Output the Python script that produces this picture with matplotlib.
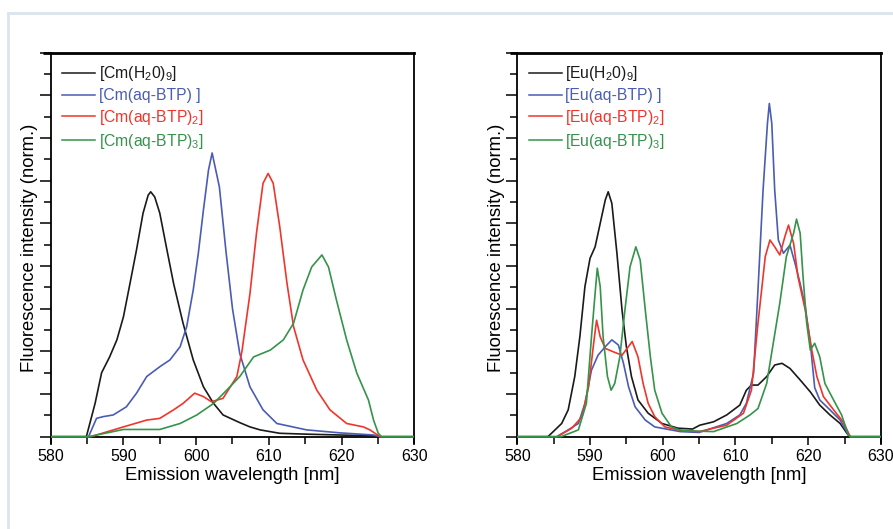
import matplotlib
matplotlib.use("Agg")
import matplotlib.pyplot as plt
from matplotlib.lines import Line2D
from matplotlib.ticker import MultipleLocator, NullFormatter

plt.rcParams['font.family'] = ['Liberation Sans', 'DejaVu Sans']
plt.rcParams['mathtext.fontset'] = 'custom'
plt.rcParams['mathtext.rm'] = 'Liberation Sans'
plt.rcParams['mathtext.it'] = 'Liberation Sans'

# --- Cm spectra ---
cm_h2o_wl = [580, 584.9, 586.1, 587.0, 588.1, 589.1, 590.0, 590.9, 591.8, 592.7, 593.4, 593.75, 594.3,
             595.0, 595.9, 596.9, 598.2, 599.6, 601.0, 602.4, 603.7, 606.0, 607.4, 608.8, 611.5, 615.1,
             619.8, 624.4, 625.0, 630]
cm_h2o = [0, 0, 0.78, 1.5, 1.87, 2.27, 2.81, 3.59, 4.38, 5.24, 5.66, 5.74, 5.62,
          5.24, 4.45, 3.59, 2.66, 1.80, 1.17, 0.78, 0.51, 0.33, 0.23, 0.16, 0.08, 0.06,
          0.04, 0.02, 0, 0]

cm_btp1_wl = [580, 585.2, 586.3, 587.2, 588.6, 590.4, 591.8, 593.2, 595.0, 596.4, 597.8, 598.7, 599.6,
              600.3, 601.0, 601.7, 602.2, 603.2, 604.1, 605.0, 606.0, 607.4, 609.2, 611.1, 615.2, 619.8,
              624.4, 625.3, 630]
cm_btp1 = [0, 0, 0.43, 0.47, 0.51, 0.70, 1.02, 1.41, 1.64, 1.80, 2.11, 2.58, 3.44,
           4.30, 5.31, 6.25, 6.65, 5.85, 4.35, 3.0, 1.95, 1.17, 0.63, 0.31, 0.16, 0.09,
           0.04, 0, 0]

cm_btp2_wl = [580, 585.5, 590.0, 593.2, 595.0, 596.9, 598.2, 599.8, 601.0, 602.1, 603.7, 605.6, 606.3,
              607.4, 608.3, 609.2, 609.9, 610.6, 611.5, 612.5, 613.4, 614.7, 616.6, 618.4, 620.7, 623.0,
              623.9, 625.3, 630]
cm_btp2 = [0, 0, 0.23, 0.39, 0.43, 0.63, 0.78, 1.02, 0.94, 0.82, 0.90, 1.41, 2.0,
           3.35, 4.77, 5.94, 6.17, 5.94, 4.92, 3.59, 2.58, 1.80, 1.09, 0.63, 0.31, 0.23,
           0.16, 0, 0]

cm_btp3_wl = [580, 585.2, 590.0, 595.0, 597.8, 600.1, 602.4, 604.2, 606.0, 607.9, 610.2, 612.0, 613.4,
              614.7, 615.9, 617.3, 618.2, 619.3, 620.7, 622.1, 623.7, 624.4, 625.05, 625.5, 630]
cm_btp3 = [0, 0, 0.17, 0.17, 0.31, 0.51, 0.78, 1.09, 1.41, 1.87, 2.03, 2.27, 2.66,
           3.44, 3.98, 4.26, 3.98, 3.20, 2.27, 1.49, 0.86, 0.39, 0.08, 0, 0]

# --- Eu spectra ---
eu_h2o_wl = [580, 584.2, 584.7, 586.1, 587.0, 587.9, 588.6, 589.3, 590.0, 590.7, 591.4, 592.1, 592.5,
             593.0, 593.7, 594.4, 595.0, 595.7, 596.6, 598.0, 599.9, 602.1, 604.1, 605.1, 607.0, 608.8,
             610.6, 611.5, 612.2, 613.1, 614.3, 615.4, 616.4, 617.5, 618.9, 620.3, 621.6, 623.0, 624.4,
             625.5, 625.8, 630]
eu_h2o = [0, 0, 0.08, 0.31, 0.63, 1.41, 2.34, 3.52, 4.18, 4.45, 5.00, 5.55, 5.74,
          5.47, 4.30, 2.97, 2.11, 1.41, 0.86, 0.55, 0.31, 0.20, 0.18, 0.27, 0.35, 0.51,
          0.74, 1.09, 1.21, 1.21, 1.41, 1.68, 1.72, 1.60, 1.33, 1.05, 0.74, 0.51, 0.31,
          0.04, 0, 0]

eu_btp1_wl = [580, 585.4, 587.0, 588.4, 589.3, 590.2, 591.1, 592.1, 593.0, 593.9, 594.6, 595.3, 596.2,
              597.6, 598.9, 600.8, 602.4, 605.0, 608.8, 610.6, 611.5, 612.5, 613.1, 613.8, 614.4, 614.66,
              615.0, 615.4, 615.9, 616.6, 617.5, 618.2, 618.9, 619.6, 620.3, 620.9, 621.6, 623.0, 624.4,
              625.5, 625.8, 630]
eu_btp1 = [0, 0, 0.16, 0.31, 0.78, 1.56, 1.91, 2.11, 2.27, 2.15, 1.72, 1.17, 0.70,
           0.39, 0.23, 0.17, 0.12, 0.10, 0.31, 0.51, 0.78, 1.49, 3.44, 5.78, 7.34, 7.81,
           7.34, 5.78, 4.61, 4.30, 4.49, 4.06, 3.59, 3.05, 2.19, 1.15, 0.86, 0.63, 0.39,
           0.06, 0, 0]

eu_btp2_wl = [580, 585.5, 587.5, 588.9, 589.8, 590.5, 590.9, 591.4, 592.1, 593.2, 594.4, 595.8, 596.6,
              597.3, 598.0, 598.9, 600.3, 602.1, 605.0, 608.8, 611.1, 612.2, 613.1, 614.1, 614.75, 615.4,
              616.1, 616.8, 617.3, 618.0, 618.6, 619.6, 620.5, 621.2, 622.1, 623.5, 624.8, 625.8, 630]
eu_btp2 = [0, 0, 0.20, 0.47, 1.17, 2.19, 2.73, 2.34, 2.07, 1.99, 1.91, 2.23, 1.87,
           1.25, 0.78, 0.47, 0.23, 0.16, 0.12, 0.27, 0.55, 1.09, 2.66, 4.22, 4.61, 4.45,
           4.26, 4.69, 4.96, 4.53, 3.75, 2.97, 2.03, 1.41, 0.94, 0.63, 0.35, 0, 0]

eu_btp3_wl = [580, 586.0, 588.4, 589.5, 590.2, 590.7, 591.0, 591.4, 591.8, 592.4, 592.9, 593.4, 594.1,
              594.8, 595.5, 596.3, 596.9, 597.6, 598.3, 598.9, 599.9, 601.2, 602.6, 607.0, 610.2, 612.0,
              613.1, 614.3, 615.2, 616.1, 617.0, 618.0, 618.4, 618.9, 619.3, 619.8, 620.3, 620.9, 621.6,
              622.3, 623.5, 624.6, 625.5, 625.8, 630]
eu_btp3 = [0, 0, 0.16, 0.78, 2.34, 3.36, 3.95, 3.52, 2.34, 1.41, 1.09, 1.25, 1.87,
           2.97, 3.98, 4.45, 4.14, 2.97, 1.87, 1.09, 0.55, 0.23, 0.14, 0.12, 0.31, 0.51,
           0.66, 1.25, 2.19, 3.13, 4.22, 4.77, 5.10, 4.77, 3.75, 2.66, 2.03, 2.19, 1.87,
           1.25, 0.86, 0.51, 0.06, 0, 0]

colors = ['#1a1a1a', '#4a5cb4', '#f0352c', '#35934a']
cm_labels = [r'[Cm(H$_2$0)$_9$]', r'[Cm(aq-BTP) ]', r'[Cm(aq-BTP)$_2$]', r'[Cm(aq-BTP)$_3$]']
eu_labels = [r'[Eu(H$_2$0)$_9$]', r'[Eu(aq-BTP) ]', r'[Eu(aq-BTP)$_2$]', r'[Eu(aq-BTP)$_3$]']

fig = plt.figure(figsize=(8.93, 5.29), dpi=100)

# light frame of the page
frame_col = '#dde4eb'
fig.add_artist(Line2D([8 / 893, 1], [1 - 13 / 529, 1 - 13 / 529], color=frame_col, lw=2))
fig.add_artist(Line2D([8 / 893, 8 / 893], [0, 1 - 13 / 529], color=frame_col, lw=2))

ax1 = fig.add_axes([0.0568, 0.1622, 0.4071, 0.7382])
ax2 = fig.add_axes([0.5793, 0.1622, 0.4071, 0.7382])


def draw(ax, series, labels):
    for (wl, val), c, lab in zip(series, colors, labels):
        ax.plot(wl, val, color=c, lw=1.2, label=lab, zorder=3)
    ax.set_xlim(580, 630)
    ax.set_ylim(-0.152, 9)
    ax.spines['bottom'].set_position(('data', 0))
    for s in ax.spines.values():
        s.set_linewidth(1.3)
    ax.spines['top'].set_linewidth(2)
    # top border runs a little past the left axis
    ax.plot([-0.02, 0], [1, 1], transform=ax.transAxes, color='k', lw=2, clip_on=False,
            solid_capstyle='butt')
    ax.xaxis.set_major_locator(MultipleLocator(10))
    ax.xaxis.set_minor_locator(MultipleLocator(5))
    ax.yaxis.set_major_locator(MultipleLocator(1))
    ax.yaxis.set_minor_locator(MultipleLocator(0.5))
    ax.yaxis.set_major_formatter(NullFormatter())
    ax.tick_params(axis='x', which='major', direction='out', length=6, width=1.1, labelsize=11.5, pad=3)
    ax.tick_params(axis='x', which='minor', direction='out', length=5, width=1.1)
    ax.tick_params(axis='y', which='major', direction='out', length=8, width=1.1)
    ax.tick_params(axis='y', which='minor', direction='out', length=5, width=1.1)
    ax.set_xlabel('Emission wavelength [nm]', fontsize=13.3, labelpad=2)
    ax.set_ylabel('Fluorescence intensity (norm.)', fontsize=13.3, labelpad=-2.5)
    leg = ax.legend(loc='upper left', bbox_to_anchor=(0.0, 1.0), frameon=False, fontsize=11.3,
                    handlelength=2.1, handletextpad=0.2, labelspacing=0.3, borderaxespad=0.35,
                    labelcolor='linecolor')
    for h in leg.legend_handles:
        h.set_linewidth(1.1)


draw(ax1, [(cm_h2o_wl, cm_h2o), (cm_btp1_wl, cm_btp1), (cm_btp2_wl, cm_btp2), (cm_btp3_wl, cm_btp3)],
     cm_labels)
draw(ax2, [(eu_h2o_wl, eu_h2o), (eu_btp1_wl, eu_btp1), (eu_btp2_wl, eu_btp2), (eu_btp3_wl, eu_btp3)],
     eu_labels)

fig.savefig('out.png', dpi=100)
